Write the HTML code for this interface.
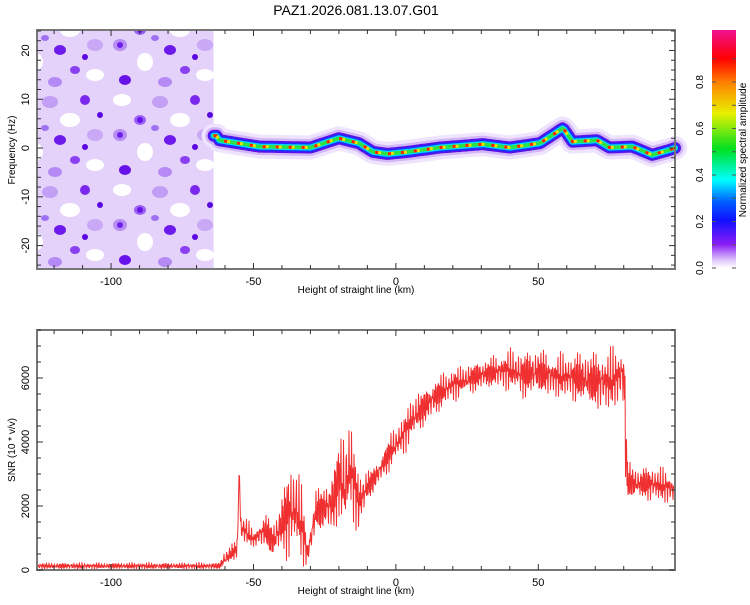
<!DOCTYPE html>
<html><head><meta charset="utf-8"><style>
body{margin:0;background:#fff;font-family:"Liberation Sans",sans-serif}
svg text{font-family:"Liberation Sans",sans-serif}
</style></head><body>
<svg id="c" width="750" height="600" viewBox="0 0 750 600" xmlns="http://www.w3.org/2000/svg">
<defs>
<linearGradient id="cb" x1="0" y1="1" x2="0" y2="0">
<stop offset="0" stop-color="#ffffff"/><stop offset="0.03" stop-color="#e2cdfb"/>
<stop offset="0.1" stop-color="#8a1cf5"/><stop offset="0.2" stop-color="#1010ff"/>
<stop offset="0.28" stop-color="#0060ff"/><stop offset="0.37" stop-color="#00ffff"/>
<stop offset="0.5" stop-color="#00e020"/><stop offset="0.65" stop-color="#e8f000"/>
<stop offset="0.78" stop-color="#ff8000"/><stop offset="0.88" stop-color="#ff0000"/>
<stop offset="1" stop-color="#f01090"/>
</linearGradient>
<pattern id="noise" width="110" height="90" patternUnits="userSpaceOnUse">
<rect width="110" height="90" fill="#e4d2fb"/>
<ellipse cx="12" cy="10" rx="9" ry="6" fill="#ffffff"/><ellipse cx="70" cy="30" rx="10" ry="7" fill="#ffffff"/>
<ellipse cx="35" cy="62" rx="8" ry="9" fill="#ffffff"/><ellipse cx="95" cy="75" rx="9" ry="6" fill="#ffffff"/>
<ellipse cx="50" cy="12" rx="8" ry="6" fill="#c29ff5"/><ellipse cx="30" cy="30" rx="6" ry="5" fill="#9b62f2"/>
<ellipse cx="30" cy="30" rx="3" ry="3" fill="#6a14ea"/><ellipse cx="85" cy="10" rx="5" ry="5" fill="#7b28ee"/>
<ellipse cx="10" cy="45" rx="7" ry="6" fill="#b88ef4"/><ellipse cx="10" cy="45" rx="3" ry="3" fill="#7020ec"/>
<ellipse cx="60" cy="50" rx="6" ry="5" fill="#6d1aec"/><ellipse cx="95" cy="45" rx="8" ry="6" fill="#c9a8f6"/>
<ellipse cx="75" cy="70" rx="5" ry="4" fill="#8a40f0"/><ellipse cx="15" cy="80" rx="6" ry="5" fill="#6812ea"/>
<ellipse cx="55" cy="82" rx="7" ry="5" fill="#b58af4"/><ellipse cx="100" cy="25" rx="3" ry="3" fill="#5a08e0"/>
<ellipse cx="45" cy="38" rx="4" ry="3" fill="#a070f2"/><ellipse cx="85" cy="57" rx="3" ry="3" fill="#5a08e0"/>
</pattern>
</defs>
<text x="356" y="15" font-size="14" text-anchor="middle">PAZ1.2026.081.13.07.G01</text>
<g id="topg"></g>
<g id="bot"></g>
<g id="cbar"></g>
</svg>
<script>
const ridgeKm=[-63,-62,-48,-30,-20,-13,-8,-3,4,15.5,30.5,40,50.6,58.7,62,70.6,75,83,90,96,98];
const ridgeFreq=[2.5,1.6,0.3,0.1,2.0,1.0,-0.8,-1.2,-0.8,0.1,0.8,0.1,1.0,4.1,1.3,1.6,0.1,0.3,-1.4,-0.4,0];
const snrKm=[-126,-62,-60,-56,-55.5,-55,-54.5,-53,-50,-46,-43,-40,-38,-35,-33,-31,-28,-25,-22,-20,-18,-16,-13,-10,-6,-2,2,6,10,15,20,25,30,35,40,45,50,55,60,65,70,75,80,80.8,81.2,82,85,90,95,98];
const snrLow=[0,0,0,300,1000,3300,700,600,700,600,200,400,100,200,0,100,1000,1100,800,1500,300,1700,900,2000,2600,3000,3500,3900,4400,4800,5200,5400,5500,5600,5500,5200,5300,5300,5200,5000,4800,4800,5000,1700,2000,2000,2100,2000,2000,2000];
const snrHigh=[250,250,700,1000,1200,3350,1900,1900,1200,1900,1600,2500,3500,3600,2800,900,2700,2800,3400,4400,4800,4800,3300,3200,3500,4400,4800,5600,5800,6200,6400,6500,6700,6800,7000,7000,7100,6800,6900,7000,7000,7000,7300,6500,3500,3500,3300,3400,3200,3000];
const xTicks=[-100,-50,0,50];
const fTicks=[-20,-10,0,10,20];
const sTicks=[0,2000,4000,6000];
const cTicks=[0,0.2,0.4,0.6,0.8];

const NS='http://www.w3.org/2000/svg';
function el(p,t,a,txt){const e=document.createElementNS(NS,t);for(const k in a)e.setAttribute(k,a[k]);if(txt!==undefined)e.textContent=txt;p.appendChild(e);return e;}
const X0=37,X1=675,KM0=-126,KM1=98;
const xs=k=>X0+(k-KM0)/(KM1-KM0)*(X1-X0);
const T0=30,T1=269,F0=-24.8,F1=24.2;
const fy=f=>T1-(f-F0)/(F1-F0)*(T1-T0);
const B0=330,B1=570,S1=7500;
const sy=v=>B1-v/S1*(B1-B0);
function interp(ks,vs,k){if(k<=ks[0])return vs[0];for(let i=1;i<ks.length;i++){if(k<=ks[i]){const t=(k-ks[i-1])/(ks[i]-ks[i-1]);return vs[i-1]+t*(vs[i]-vs[i-1]);}}return vs[vs.length-1];}

function frame(g,y0,y1,name){
  const f=el(g,'rect',{x:X0,y:y0,width:X1-X0,height:y1-y0,fill:'none',stroke:'#777','stroke-width':2});
  
  
  for(let k=-120;k<=95;k+=10){const x=xs(k);const big=k%50===0;const L=big?6:4;
    el(g,'line',{x1:x,y1:y1,x2:x,y2:y1-L,stroke:'#333'});el(g,'line',{x1:x,y1:y0,x2:x,y2:y0+L,stroke:'#333'});}
  xTicks.forEach(k=>{const t=el(g,'text',{x:xs(k),y:y1+16,'font-size':11,'text-anchor':'middle'},String(k));
    
    });
  const xl=el(g,'text',{x:356,y:y1+24,'font-size':10,'text-anchor':'middle'},'Height of straight line (km)');
  
  
}

// top spectrogram
const topG=document.getElementById('topg');


const nz=el(topG,'rect',{x:X0,y:T0,width:xs(-64)-X0,height:T1-T0,fill:'url(#noise)'});


const rg=el(topG,'g',{});


let pts=[];for(let k=-64;k<=98;k+=0.5)pts.push(xs(k).toFixed(1)+','+fy(interp(ridgeKm,ridgeFreq,k)).toFixed(1));
const P=pts.join(' ');
[[24,'#efe4fd'],[17,'#d2b6f7'],[12,'#5a10e8'],[9,'#1a30ff'],[6,'#00d8ff'],[3.5,'#30e040']].forEach(([w,c])=>{
  el(rg,'polyline',{points:P,fill:'none',stroke:c,'stroke-width':w,'stroke-linejoin':'round','stroke-linecap':'round'});});
el(rg,'polyline',{points:P,fill:'none',stroke:'#f0e000','stroke-width':3,'stroke-dasharray':'6 7'});
el(rg,'polyline',{points:P,fill:'none',stroke:'#ff2000','stroke-width':3,'stroke-dasharray':'3 10'});
frame(topG,T0,T1,'spectrogram');
for(let f=-24;f<=24;f+=2){const y=fy(f);const L=f%10===0?6:4;el(topG,'line',{x1:X0,y1:y,x2:X0+L,y2:y,stroke:'#333'});el(topG,'line',{x1:X1,y1:y,x2:X1-L,y2:y,stroke:'#333'});}
fTicks.forEach(f=>{const t=el(topG,'text',{x:0,y:0,'font-size':11,'text-anchor':'middle',transform:`translate(29,${fy(f)}) rotate(-90)`},String(f));
  
  });
const yt=el(topG,'text',{x:0,y:0,'font-size':10,'text-anchor':'middle',transform:`translate(15,150) rotate(-90)`},'Frequency (Hz)');



// bottom SNR
const bot=document.getElementById('bot');


let sp=[];let i=0;
for(let x=X0;x<=X1;x+=0.5,i++){const k=KM0+(x-X0)/(X1-X0)*(KM1-KM0);const lo=interp(snrKm,snrLow,k),hi=interp(snrKm,snrHigh,k);
  const m=(lo+hi)/2,h=(hi-lo)/2;const w=Math.sin(i*2.39)*0.5+Math.sin(i*1.13)*0.3+Math.sin(i*3.71)*0.2;sp.push(x.toFixed(1)+','+sy(m+h*w).toFixed(1));}
const sl=el(bot,'polyline',{points:sp.join(' '),fill:'none',stroke:'#f03030','stroke-width':1});


frame(bot,B0,B1,'snr');
for(let v=0;v<=7500;v+=500){const y=sy(v);const L=v%2000===0?6:4;el(bot,'line',{x1:X0,y1:y,x2:X0+L,y2:y,stroke:'#333'});el(bot,'line',{x1:X1,y1:y,x2:X1-L,y2:y,stroke:'#333'});}
sTicks.forEach(v=>{const t=el(bot,'text',{x:0,y:0,'font-size':11,'text-anchor':'middle',transform:`translate(29,${sy(v)}) rotate(-90)`},String(v));
  
  });
const st=el(bot,'text',{x:0,y:0,'font-size':10,'text-anchor':'middle',transform:`translate(15,450) rotate(-90)`},'SNR (10 * v/v)');



// colorbar
const cb=document.getElementById('cbar');


const cy=v=>268-v*232.5;
el(cb,'rect',{x:712,y:30,width:24,height:238,fill:'url(#cb)'});
for(let v=0;v<=0.9;v+=0.1){const y=cy(v);el(cb,'line',{x1:712,y1:y,x2:716,y2:y,stroke:'#555'});el(cb,'line',{x1:736,y1:y,x2:732,y2:y,stroke:'#555'});}
cTicks.forEach(v=>{const t=el(cb,'text',{x:0,y:0,'font-size':10,'text-anchor':'middle',transform:`translate(703,${cy(v)}) rotate(-90)`},v.toFixed(1));
  
  });
const ct=el(cb,'text',{x:0,y:0,'font-size':10,'text-anchor':'middle',transform:`translate(746,150) rotate(-90)`},'Normalized spectral amplitude');


</script>
</body></html>
